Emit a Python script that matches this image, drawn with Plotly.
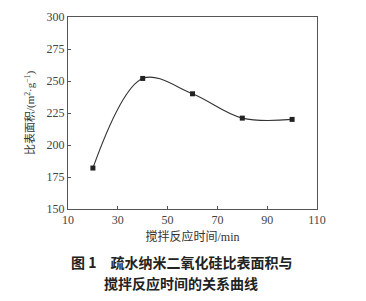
import plotly.graph_objects as go

time_min = [20, 40, 60, 80, 100]
surface_area = [182, 252, 240, 221, 220]
x_ticks = [10, 30, 50, 70, 90, 110]
y_ticks = [150, 175, 200, 225, 250, 275, 300]

x_title = "搅拌反应时间/min"
y_title = "比表面积/(m<sup>2</sup>·g<sup>−1</sup>)"
caption1 = "图 1　疏水纳米二氧化硅比表面积与"
caption2 = "搅拌反应时间的关系曲线"

cjk = "Noto Sans CJK SC"
serif = "Liberation Serif"
mixed = serif + ", " + cjk

fig = go.Figure()
fig.add_trace(go.Scatter(
    x=time_min, y=surface_area,
    mode="lines+markers",
    line=dict(color="#333333", width=1.1, shape="spline", smoothing=1.0),
    marker=dict(symbol="square", size=5, color="#222222"),
    showlegend=False,
))

axis_common = dict(
    showline=True, linecolor="#555555", linewidth=1, mirror=True,
    ticks="inside", ticklen=3, tickcolor="#555555",
    showgrid=False, zeroline=False,
    tickfont=dict(family=serif, size=12, color="#444444"),
)

fig.update_layout(
    width=366, height=301,
    margin=dict(l=68, r=49, t=10, b=92),
    paper_bgcolor="white", plot_bgcolor="white",
    xaxis=dict(range=[10, 110], tickvals=x_ticks,
               title=dict(text=x_title, font=dict(family=mixed, size=12, color="#333333"), standoff=6),
               **axis_common),
    yaxis=dict(range=[150, 300], tickvals=y_ticks,
               title=dict(text=y_title, font=dict(family=mixed, size=11, color="#333333"), standoff=9),
               **axis_common),
    annotations=[
        dict(text="<b>" + caption1 + "</b>", xref="paper", yref="paper", x=0.455, y=0,
             xanchor="center", yanchor="middle", yshift=-53, showarrow=False,
             font=dict(family=cjk, size=14, color="#222222")),
        dict(text="<b>" + caption2 + "</b>", xref="paper", yref="paper", x=0.455, y=0,
             xanchor="center", yanchor="middle", yshift=-74, showarrow=False,
             font=dict(family=cjk, size=14, color="#222222")),
    ],
)

fig.write_html("out.html")
